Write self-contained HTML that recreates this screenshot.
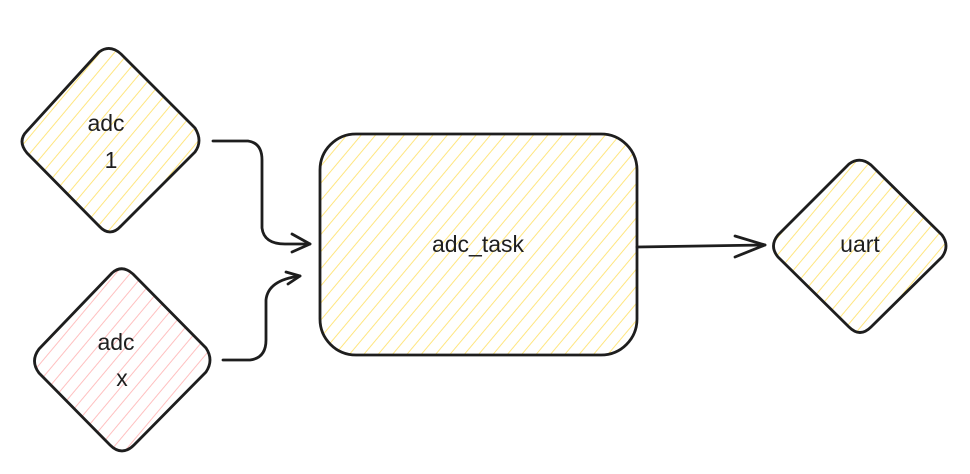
<!DOCTYPE html>
<html><head><style>
html,body{margin:0;padding:0;background:#fff;}
svg{display:block}
text{font-family:"Liberation Sans","DejaVu Sans",sans-serif;font-size:23px;fill:#1e1e1e;text-anchor:middle}
</style></head><body>
<svg width="970" height="474" viewBox="0 0 970 474" xmlns="http://www.w3.org/2000/svg">
<defs>
<pattern id="hy" patternUnits="userSpaceOnUse" width="11" height="11" patternTransform="rotate(40)">
<line x1="0" y1="0" x2="0" y2="11" stroke="#ffe680" stroke-width="2"/></pattern>
<pattern id="hp" patternUnits="userSpaceOnUse" width="11" height="11" patternTransform="rotate(40)">
<line x1="0" y1="0" x2="0" y2="11" stroke="#ffc0c0" stroke-width="2"/></pattern>
</defs>
<g stroke="#1e1e1e" stroke-width="2.8" stroke-linejoin="round" stroke-linecap="round">
<path d="M99,52 Q110,44 121,54 L195,128 Q203,141 195,152 L121,226 Q110,238 99,226 L27,153 Q17,141 27,131 Z" fill="url(#hy)"/>
<path d="M112,273 Q122,264 133,274 L206,348 Q214,360 206,372 L134,445 Q122,457 110,445 L39,373 Q30,361 39,349 Z" fill="url(#hp)"/>
<rect x="320" y="134" width="317" height="221" rx="36" fill="url(#hy)"/>
<path d="M849,164 Q860,156 871,165 L942,235 Q950,246 942,257 L871,327 Q860,338 849,327 L778,257 Q769,246 778,235 Z" fill="url(#hy)"/>
<g fill="none">
<path d="M213,141 L248,141 Q262,143 262,160 L262,228 Q264,244 285,244 L310,244"/>
<path d="M292,234 L310,244 L292,252"/>
<path d="M223,360 L250,360 Q266,358 266,340 L266,300 Q268,280 300,276"/>
<path d="M286,272 L300,276 L288,284"/>
<path d="M637,247 L765,245"/>
<path d="M735,236 L765,245 L735,257"/>
</g>
</g>
<text x="106" y="131">adc</text>
<text x="111" y="168">1</text>
<text x="116" y="350">adc</text>
<text x="122" y="386">x</text>
<text x="478" y="252">adc_task</text>
<text x="860" y="252">uart</text>
</svg>
</body></html>
